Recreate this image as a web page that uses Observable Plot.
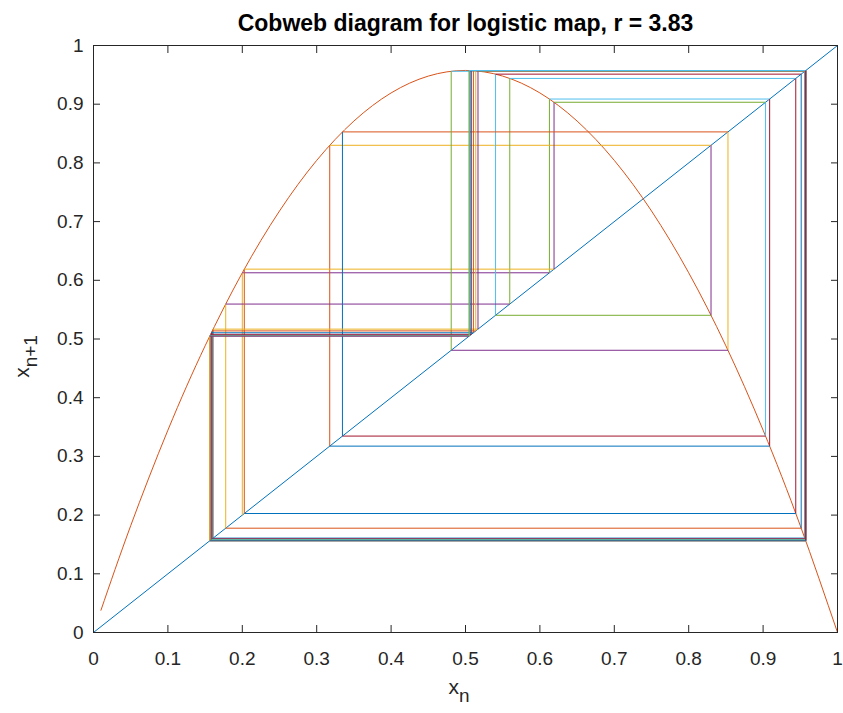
<!DOCTYPE html>
<html>
<head>
<meta charset="utf-8">
<script src="https://cdn.jsdelivr.net/npm/d3@7"></script>
<script src="https://cdn.jsdelivr.net/npm/@observablehq/plot@0.6"></script>
<style>
  body { margin: 0; background: #fff; }
  #chart svg { display: block; }
</style>
</head>
<body>
<div id="chart"></div>
<script>
// ---- data ----
const titleText = "Cobweb diagram for logistic map, r = 3.83";
const r = 3.83;

// successive iterates x0, x1, ... of the cobweb
const iterates = [
  0.2000, 0.6128, 0.9088, 0.3175, 0.8300, 0.5404, 0.9512, 0.1777, 0.5595, 0.9439,
  0.2027, 0.6190, 0.9033, 0.3346, 0.8528, 0.4808, 0.9561, 0.1608, 0.5168, 0.9564,
  0.1596, 0.5138, 0.9568, 0.1584, 0.5106, 0.9571, 0.1574, 0.5079, 0.9573, 0.1567,
  0.5061, 0.9574, 0.1564, 0.5052, 0.9574, 0.1562, 0.5048, 0.9574, 0.1562
];

const curveX = [0.01, 0.05, 0.10, 0.15, 0.20, 0.25, 0.30, 0.35, 0.40, 0.45, 0.50,
                0.55, 0.60, 0.65, 0.70, 0.75, 0.80, 0.85, 0.90, 0.95, 1.00];
const curveY = [0.0379, 0.1819, 0.3447, 0.4883, 0.6128, 0.7181, 0.8043, 0.8713, 0.9192, 0.9479, 0.9575,
                0.9479, 0.9192, 0.8713, 0.8043, 0.7181, 0.6128, 0.4883, 0.3447, 0.1819, 0.0000];

// identity line
const diagX = [0, 1];
const diagY = [0, 1];

const xTicks = [0, 0.1, 0.2, 0.3, 0.4, 0.5, 0.6, 0.7, 0.8, 0.9, 1];
const yTicks = [0, 0.1, 0.2, 0.3, 0.4, 0.5, 0.6, 0.7, 0.8, 0.9, 1];

// MATLAB default colour order
const colorOrder = ["#0072BD", "#D95319", "#EDB120", "#7E2F8E", "#77AC30", "#4DBEEE", "#A2142F"];

// ---- build tables ----
const diag = diagX.map((x, i) => ({x, y: diagY[i]}));
const curve = curveX.map((x, i) => ({x, y: curveY[i]}));
const segments = [];
for (let k = 0; k < iterates.length - 1; k++) {
  const a = iterates[k], b = iterates[k + 1];
  segments.push({x1: a, y1: a, x2: a, y2: b, c: colorOrder[(2 + 2 * k) % 7]});
  segments.push({x1: a, y1: b, x2: b, y2: b, c: colorOrder[(3 + 2 * k) % 7]});
}

const axisColor = "#262626";
const fmt = d => String(d);

const chart = Plot.plot({
  width: 843,
  height: 713,
  marginLeft: 93,
  marginRight: 6,
  marginTop: 45,
  marginBottom: 81,
  x: {domain: [0, 1]},
  y: {domain: [0, 1]},
  color: {type: "identity"},
  style: {
    fontFamily: "'Liberation Sans', Arial, Helvetica, sans-serif",
    fontSize: "19px",
    color: axisColor,
    background: "#fff"
  },
  marks: [
    Plot.line(diag, {x: "x", y: "y", stroke: colorOrder[0], strokeWidth: 1}),
    Plot.line(curve, {x: "x", y: "y", stroke: colorOrder[1], strokeWidth: 1, curve: "natural"}),
    Plot.link(segments, {x1: "x1", y1: "y1", x2: "x2", y2: "y2", stroke: "c", strokeWidth: 1}),
    Plot.frame({stroke: axisColor, strokeWidth: 1}),
    Plot.axisX({ticks: xTicks, tickSize: -7, tickPadding: 26, tickFormat: fmt, label: null, stroke: axisColor}),
    Plot.axisX({anchor: "top", ticks: xTicks, tickSize: -7, tickFormat: () => "", label: null, stroke: axisColor}),
    Plot.axisY({ticks: yTicks, tickSize: -7, tickPadding: 17, tickFormat: fmt, label: null, stroke: axisColor}),
    Plot.axisY({anchor: "right", ticks: yTicks, tickSize: -7, tickFormat: () => "", label: null, stroke: axisColor}),
    Plot.text([titleText], {
      text: d => d, frameAnchor: "top", lineAnchor: "bottom", dy: -15,
      fontWeight: "bold", fontSize: 23, fill: "#000"
    })
  ]
});

document.getElementById("chart").appendChild(chart);

// axis labels with subscripts
const sx = chart.scale("x"), sy = chart.scale("y");
const svg = d3.select(chart);
const xl = svg.append("text")
  .attr("x", sx.apply(0.5) - 6)
  .attr("y", 694)
  .attr("fill", axisColor)
  .attr("font-size", 21)
  .attr("font-family", "'Liberation Sans', Arial, sans-serif");
xl.append("tspan").text("x");
xl.append("tspan").attr("dy", 8).attr("font-size", 19).text("n");

const yl = svg.append("text")
  .attr("transform", `translate(29,${sy.apply(0.5) + 18}) rotate(-90)`)
  .attr("fill", axisColor)
  .attr("font-size", 21)
  .attr("font-family", "'Liberation Sans', Arial, sans-serif");
yl.append("tspan").text("x");
yl.append("tspan").attr("dy", 8).attr("font-size", 19).text("n+1");
</script>
</body>
</html>
